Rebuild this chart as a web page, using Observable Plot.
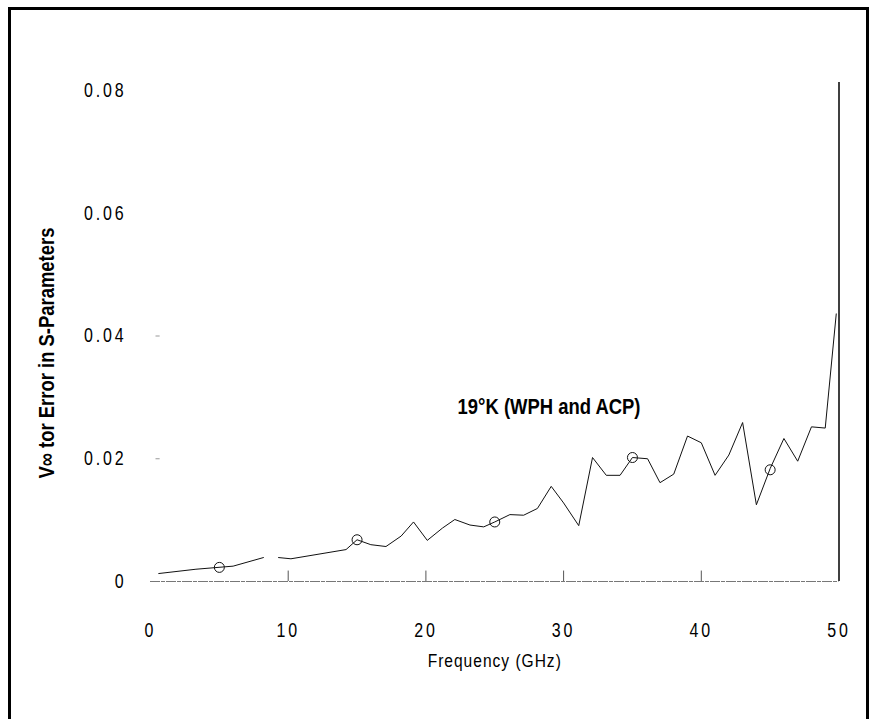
<!DOCTYPE html>
<html><head><meta charset="utf-8">
<script src="https://cdn.jsdelivr.net/npm/d3@7"></script>
<script src="https://cdn.jsdelivr.net/npm/@observablehq/plot@0.6"></script>
<style>
body{margin:0;background:#fff;}
#wrap{position:relative;width:872px;height:719px;overflow:hidden;background:#fff;}
#wrap svg{position:absolute;left:0;top:0;}
#border{position:absolute;left:8px;top:7px;width:855px;height:730px;border:3px solid #000;pointer-events:none;}
svg text{font-family:"Liberation Sans",Arial,sans-serif;}
g[aria-label="y-axis tick label"] text, g[aria-label="x-axis tick label"] text{letter-spacing:3.5px;}
</style></head>
<body><div id="wrap"><div id="border"></div></div>
<script>
// Measured line (GHz, vector error); NaN marks the dropout in the trace
const freq = [0.6, 3.3, 6.0, 8.2, 8.75, 9.3, 10.2, 14.2, 15.0, 16.0, 17.1, 18.2, 19.1, 20.1, 21.2, 22.1, 23.2, 24.2, 25.0, 26.1, 27.1, 28.1, 29.1, 30.0, 31.1, 32.1, 33.1, 34.1, 35.0, 36.1, 37.0, 38.0, 39.0, 40.0, 41.0, 42.0, 43.0, 44.0, 45.0, 46.0, 47.0, 48.0, 49.0, 49.8];
const err = [0.0013, 0.0020, 0.0025, 0.0039, NaN, 0.0039, 0.0037, 0.0052, 0.0068, 0.0060, 0.0057, 0.0074, 0.0097, 0.0067, 0.0087, 0.0101, 0.0092, 0.0089, 0.0097, 0.0109, 0.0108, 0.0119, 0.0155, 0.0128, 0.0091, 0.0202, 0.0173, 0.0173, 0.0202, 0.0200, 0.0161, 0.0175, 0.0237, 0.0226, 0.0173, 0.0206, 0.0259, 0.0125, 0.0184, 0.0233, 0.0196, 0.0252, 0.0250, 0.0436];
const markerFreq = [5, 15, 25, 35, 45];
const markerErr = [0.0023, 0.0068, 0.0097, 0.0202, 0.0182];
const xTicks = [0, 10, 20, 30, 40, 50];
const xTickMarks = [10, 20, 30, 40];
const yTicks = [0, 0.02, 0.04, 0.06, 0.08];
const yTickLabels = ["0", "0.02", "0.04", "0.06", "0.08"];
const yStubs = [0.02, 0.04];
const rightEdge = [50];
const rightTop = 0.0813;
const annoFreq = [22.3];
const annoErr = [0.0284];
const annoText = ["19°K (WPH and ACP)"];
const xLabel = "Frequency (GHz)";
const yLabel = "V∞ tor Error in S-Parameters";

const line = freq.map((f, i) => ({f, e: err[i]}));
const markers = markerFreq.map((f, i) => ({f, e: markerErr[i]}));
const FF = '"Liberation Sans",Arial,sans-serif';

const chart = Plot.plot({
  width: 872, height: 719,
  marginLeft: 150, marginRight: 33.5, marginTop: 90, marginBottom: 138,
  style: {background: "transparent", color: "#000"},
  x: {domain: [0, 50]},
  y: {domain: [0, 0.08]},
  marks: [
    Plot.ruleY([0], {stroke: "#777", strokeWidth: 1, strokeDasharray: "10 1 4 1"}),
    Plot.ruleX(xTickMarks, {y1: 0, y2: 0.0017, stroke: "#555", strokeWidth: 1}),
    Plot.ruleY(yStubs, {x1: 0.4, x2: 0.7, stroke: "#999", strokeWidth: 1}),
    Plot.ruleX(rightEdge, {y1: 0, y2: rightTop, stroke: "#000", strokeWidth: 1.5}),
    Plot.line(line, {x: "f", y: "e", stroke: "#111", strokeWidth: 1}),
    Plot.dot(markers, {x: "f", y: "e", r: 5, stroke: "#111", fill: "none", strokeWidth: 1}),
    Plot.axisX({ticks: xTicks, tickSize: 0, tickPadding: 42, fontSize: 19.5, fontFamily: FF, label: null}),
    Plot.axisY({ticks: yTicks, tickSize: 0, tickPadding: 24, fontSize: 19.5, fontFamily: FF, label: null,
      tickFormat: d => yTickLabels[yTicks.indexOf(d)]}),
    Plot.text([xLabel], {frameAnchor: "bottom", dy: 85, fontSize: 19, fontFamily: FF, fill: "#000"}),
    Plot.text([yLabel], {frameAnchor: "left", textAnchor: "middle", dx: -104, dy: 17, rotate: -90, fontSize: 22.5, fontWeight: "bold", fontFamily: FF, fill: "#000"}),
    Plot.text(annoText, {x: annoFreq, y: annoErr, text: d => d, textAnchor: "start", fontSize: 22.5, fontWeight: "bold", fontFamily: FF, fill: "#000"})
  ]
});
document.getElementById("wrap").prepend(chart);

// emulate a narrow (condensed) typeface by squeezing glyphs horizontally
d3.select(chart).selectAll("text").each(function () {
  const xa = this.getAttribute("x");
  const x = xa != null && !isNaN(+xa) ? +xa : 0;
  if (xa != null && !isNaN(+xa)) this.removeAttribute("x");
  const t = this.getAttribute("transform") || "";
  this.setAttribute("transform", `${t} translate(${x},0) scale(0.82,1)`);
});
d3.select(chart).selectAll('text').filter(function(){ return this.textContent === xLabel; }).style("letter-spacing", "1.2px");
</script>
</body></html>
